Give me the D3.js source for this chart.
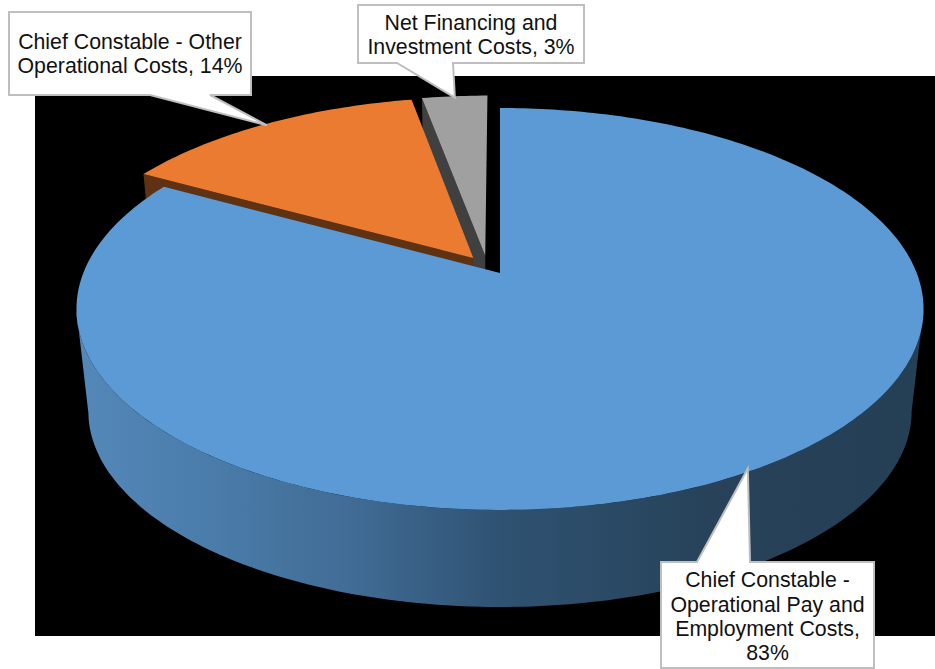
<!DOCTYPE html>
<html>
<head>
<meta charset="utf-8">
<script src="https://cdn.jsdelivr.net/npm/d3@7"></script>
<style>
html,body{margin:0;padding:0;background:#fff;overflow:hidden}
svg{display:block}
text{font-family:"Liberation Sans",Arial,sans-serif;fill:#111}
</style>
</head>
<body>
<svg id="chart" width="935" height="669"></svg>
<script>
// Budget split shown as an exploded 3D pie with callout labels.
const categories = [
  "Chief Constable - Operational Pay and Employment Costs",
  "Chief Constable - Other Operational Costs",
  "Net Financing and Investment Costs"
];
const shares = [83, 14, 3];
const labelLines = [
  ["Chief Constable -", "Operational Pay and", "Employment Costs,", "83%"],
  ["Chief Constable - Other", "Operational Costs, 14%"],
  ["Net Financing and", "Investment Costs, 3%"]
];
const topColors = ["#5b9ad5", "#eb7b30", "#a0a0a0"];
const sideColors = ["#2b4d6e", "#5f3214", "#404040"];
// Displacement of each slice on the pie's plane, in radius units.
const explodeU = [0, -0.065, -0.036];
const explodeV = [0, -0.078, -0.09];
// Callout boxes: left, top, width, height, tail base start, tail base end.
const boxes = [
  {x: 661, y: 562, w: 213, h: 106, side: "top", a: 697, b: 750},
  {x: 9, y: 12, w: 242, h: 83, side: "bottom", a: 150, b: 210},
  {x: 358, y: 5, w: 226, h: 58, side: "bottom", a: 397, b: 453}
];
const baselines = [[587, 612, 636, 660], [49, 73], [30, 54]];

const svg = d3.select("#chart");
svg.append("rect").attr("x", 35).attr("y", 76).attr("width", 900).attr("height", 560).attr("fill", "#000");

// Perspective projection of the unit disc, for the top face and the lower rim.
const tilt = -0.179;
const topFace = {x0: 500, y0: 273, A: 416.7, B: 194.5};
const lowFace = {x0: 500, y0: 376.4, A: 405, B: 189.3};
function project(face, u, v) {
  const w = 1 + tilt * v;
  return [face.x0 + face.A * u / w, face.y0 + face.B * v / w];
}
const onCircle = (angle, i, r = 1) => [
  r * Math.sin(angle) + explodeU[i],
  -r * Math.cos(angle) + explodeV[i]
];
const line = d3.line();

const slices = d3.pie().sort(null).value(d => d)(shares);
const color = d3.scaleOrdinal().domain(d3.range(3)).range(topColors);
const sideColor = d3.scaleOrdinal().domain(d3.range(3)).range(sideColors);

function topWedge(s, i) {
  const pts = [project(topFace, explodeU[i], explodeV[i])];
  const n = Math.max(8, Math.ceil((s.endAngle - s.startAngle) * 60));
  d3.range(n + 1).forEach(k => {
    const a = s.startAngle + (s.endAngle - s.startAngle) * k / n;
    pts.push(project(topFace, ...onCircle(a, i)));
  });
  return line(pts) + "Z";
}
function radialFace(angle, i) {
  const c = [explodeU[i], explodeV[i]];
  const e = onCircle(angle, i);
  return line([
    project(topFace, ...c), project(topFace, ...e),
    project(lowFace, ...e), project(lowFace, ...c)
  ]) + "Z";
}

// Lit rim of the large slice, shaded from left to right.
const defs = svg.append("defs");
const grad = defs.append("linearGradient").attr("id", "rim")
  .attr("gradientUnits", "userSpaceOnUse")
  .attr("x1", 77).attr("x2", 924).attr("y1", 0).attr("y2", 0);
const rimStops = [[0, "#5488b9"], [0.15, "#4b7dab"], [0.33, "#406b94"], [0.5, "#2f5272"], [0.75, "#274259"], [1, "#253f55"]];
grad.selectAll("stop").data(rimStops).join("stop")
  .attr("offset", d => d[0]).attr("stop-color", d => d[1]);

const rimRange = d3.range(100.3, 259.8, 1).map(d => d * Math.PI / 180);
const rimPath = line([
  ...rimRange.map(a => project(topFace, Math.sin(a), -Math.cos(a))),
  ...rimRange.slice().reverse().map(a => project(lowFace, Math.sin(a), -Math.cos(a)))
]) + "Z";

// Back slices first so the front ones overlap them.
[2, 1].forEach(i => {
  svg.append("path").attr("d", radialFace(slices[i].startAngle, i)).attr("fill", sideColor(i));
  svg.append("path").attr("d", topWedge(slices[i], i)).attr("fill", color(i));
});
svg.append("path").attr("d", rimPath).attr("fill", "url(#rim)");
svg.append("path").attr("d", topWedge(slices[0], 0)).attr("fill", color(0));

// Callouts whose tails point at each slice's mid-angle on the rim.
boxes.forEach((b, i) => {
  const mid = (slices[i].startAngle + slices[i].endAngle) / 2;
  const tip = project(topFace, ...onCircle(mid, i, 0.99));
  const edge = b.side === "top" ? b.y : b.y + b.h;
  const outline = b.side === "top"
    ? [[b.x, b.y], [b.a, b.y], tip, [b.b, b.y], [b.x + b.w, b.y], [b.x + b.w, b.y + b.h], [b.x, b.y + b.h]]
    : [[b.x, b.y], [b.x + b.w, b.y], [b.x + b.w, edge], [b.b, edge], tip, [b.a, edge], [b.x, edge]];
  svg.append("path").attr("d", line(outline) + "Z")
    .attr("fill", "#fff").attr("stroke", "#bfbfbf").attr("stroke-width", 2);
  svg.append("g").selectAll("text").data(labelLines[i]).join("text")
    .attr("x", b.x + b.w / 2)
    .attr("y", (d, k) => baselines[i][k])
    .attr("text-anchor", "middle")
    .attr("font-size", 21.3)
    .text(d => d);
});
</script>
</body>
</html>
